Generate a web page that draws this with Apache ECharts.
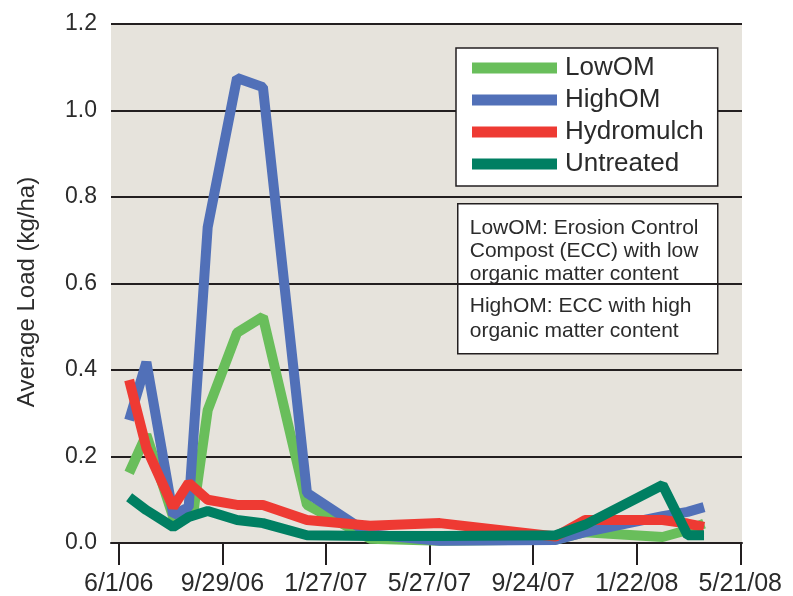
<!DOCTYPE html>
<html>
<head>
<meta charset="utf-8">
<script src="https://cdn.jsdelivr.net/npm/echarts@6/dist/echarts.min.js"></script>
<style>
html,body{margin:0;padding:0;background:#ffffff;}
#chart{width:793px;height:596px;}
</style>
</head>
<body>
<div id="chart"></div>
<script>
// ---- data ----
const seriesNames = ['LowOM', 'HighOM', 'Hydromulch', 'Untreated'];
const dates = ['2006-06-13','2006-07-03','2006-08-03','2006-08-21','2006-08-26','2006-09-12','2006-10-16','2006-11-15','2007-01-05','2007-03-19','2007-06-08','2007-10-20','2007-11-23','2008-02-21','2008-03-21','2008-04-09'];
const lowOM      = [0.162, 0.25, 0.06, null, 0.065, 0.307, 0.486, 0.523, 0.088, 0.01, 0.005, 0.008, 0.025, 0.014, 0.03, 0.045];
const highOM     = [0.284, 0.418, 0.065, 0.083, null, 0.73, 1.075, 1.054, 0.116, 0.02, 0.005, 0.007, 0.025, 0.062, 0.072, 0.083];
const hydromulch = [0.377, 0.22, 0.083, 0.139, null, 0.10, 0.088, 0.088, 0.053, 0.04, 0.046, 0.015, 0.053, 0.053, 0.045, 0.037];
const untreated  = [0.106, 0.076, 0.037, 0.06, null, 0.074, 0.053, 0.046, 0.018, 0.016, 0.016, 0.018, 0.042, 0.134, 0.018, 0.018];
const xTickLabels = ['6/1/06', '9/29/06', '1/27/07', '5/27/07', '9/24/07', '1/22/08', '5/21/08'];
const yTickValues = [0, 0.2, 0.4, 0.6, 0.8, 1.0, 1.2];
const noteLines1 = ['LowOM: Erosion Control', 'Compost (ECC) with low', 'organic matter content'];
const noteLines2 = ['HighOM: ECC with high', 'organic matter content'];

// ---- helpers ----
const originStr = '2006-06-01';
function toDays(s) {
  const p = s.split('-').map(Number);
  const o = originStr.split('-').map(Number);
  return Math.round((Date.UTC(p[0], p[1]-1, p[2]) - Date.UTC(o[0], o[1]-1, o[2])) / 86400000);
}
function labelToDays(l) {
  const p = l.split('/').map(Number);
  return toDays((2000 + p[2]) + '-' + p[0] + '-' + p[1]);
}
const xTickDays = xTickLabels.map(labelToDays);
const labelByDay = {};
xTickLabels.forEach((l, i) => { labelByDay[xTickDays[i]] = l; });

function pairs(vals) {
  return dates.map((d, i) => [toDays(d), vals[i]]);
}

const colors = ['#69be5b', '#5170b8', '#ee3a33', '#007f62'];
const allVals = [lowOM, highOM, hydromulch, untreated];

const textColor = '#2b2b2b';
const fontFam = '"Liberation Sans", Arial, Helvetica, sans-serif';

const chart = echarts.init(document.getElementById('chart'), null, {renderer: 'canvas'});
chart.setOption({
  animation: false,
  backgroundColor: '#ffffff',
  textStyle: {fontFamily: fontFam},
  grid: {
    left: 111, right: 51, top: 24, bottom: 53,
    containLabel: false,
    outerBoundsMode: 'none',
    show: true, backgroundColor: '#e6e3dc', borderWidth: 0
  },
  xAxis: {
    type: 'value',
    min: xTickDays[0] - 9,
    max: xTickDays[xTickDays.length - 1] + 2,
    splitLine: {show: false},
    axisLine: {show: true, lineStyle: {color: '#231f20', width: 2}},
    axisTick: {show: true, customValues: xTickDays, length: 22, lineStyle: {color: '#231f20', width: 2}},
    axisLabel: {
      customValues: xTickDays,
      formatter: v => labelByDay[Math.round(v)] || '',
      fontSize: 25, lineHeight: 30, margin: 26, color: textColor, fontFamily: fontFam
    }
  },
  yAxis: {
    type: 'value',
    min: yTickValues[0],
    max: yTickValues[yTickValues.length - 1],
    interval: 0.2,
    name: 'Average Load (kg/ha)',
    nameLocation: 'middle',
    nameGap: 72,
    nameTextStyle: {fontSize: 24, color: textColor, fontFamily: fontFam, padding: [0, 17, 0, 0]},
    axisLine: {show: false},
    axisTick: {show: true, length: 4, lineStyle: {color: '#231f20', width: 2}},
    splitLine: {show: true, lineStyle: {color: '#231f20', width: 2}},
    axisLabel: {
      formatter: v => v.toFixed(1),
      fontSize: 23, margin: 14, color: textColor, fontFamily: fontFam
    }
  },
  legend: {
    orient: 'vertical',
    left: 456, top: 48,
    data: seriesNames,
    icon: 'rect',
    itemWidth: 85, itemHeight: 11, itemGap: 4,
    backgroundColor: '#ffffff',
    borderColor: '#231f20', borderWidth: 1.5,
    padding: [6, 14, 8, 16],
    textStyle: {fontSize: 26, lineHeight: 28, color: textColor, fontFamily: fontFam, padding: [0, 0, 0, 3]}
  },
  graphic: [
    {
      type: 'group', left: 457, top: 203,
      children: [
        {type: 'rect', shape: {x: 0, y: 0, width: 260, height: 150},
         style: {fill: '#ffffff', stroke: '#231f20', lineWidth: 1.5}},
        {type: 'text', x: 12, y: 13,
         style: {text: noteLines1.join('\n'), fontSize: 21, lineHeight: 23, fill: textColor, fontFamily: fontFam}},
        {type: 'text', x: 12, y: 90,
         style: {text: noteLines2.join('\n'), fontSize: 21, lineHeight: 25, fill: textColor, fontFamily: fontFam}}
      ]
    }
  ],
  series: seriesNames.map((n, i) => ({
    name: n,
    type: 'line',
    data: pairs(allVals[i]),
    connectNulls: true,
    showSymbol: false,
    symbol: 'none',
    color: colors[i],
    lineStyle: {width: 10, color: colors[i]},
    z: 2 + i
  }))
});
</script>
</body>
</html>
